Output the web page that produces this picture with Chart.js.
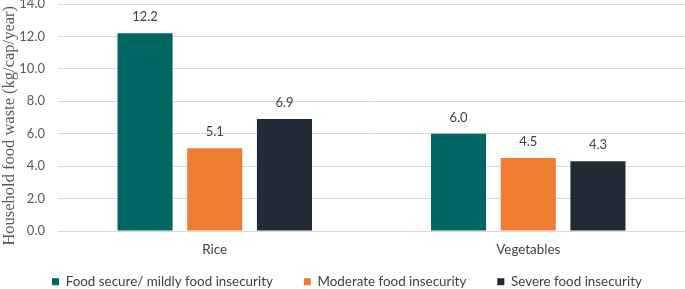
<!DOCTYPE html>
<html>
<head>
<meta charset="utf-8">
<script src="https://cdn.jsdelivr.net/npm/chart.js@4"></script>
<style>
  html, body { margin: 0; padding: 0; background: #fff; }
  #wrap { width: 685px; height: 289px; }
</style>
</head>
<body>
<div id="wrap"><canvas id="wasteChart"></canvas></div>
<script>
// Household food waste by food security status
const categories = ["Rice", "Vegetables"];
const seriesNames = [
  "Food secure/ mildly food insecurity",
  "Moderate food insecurity",
  "Severe food insecurity",
];
const foodSecure = [12.2, 6.0];
const moderate = [5.1, 4.5];
const severe = [6.9, 4.3];
const colors = ["#006661", "#ED7D31", "#222A35"];

const sansFont = "Lato, 'Liberation Sans', sans-serif";

// value labels above bars
const valueLabels = {
  id: "valueLabels",
  afterDatasetsDraw(chart) {
    const ctx = chart.ctx;
    ctx.save();
    ctx.font = "13px " + sansFont;
    ctx.fillStyle = "#404040";
    ctx.textAlign = "center";
    ctx.textBaseline = "middle";
    chart.data.datasets.forEach((ds, i) => {
      chart.getDatasetMeta(i).data.forEach((bar, j) => {
        ctx.fillText(ds.data[j].toFixed(1), bar.x, bar.y - 16);
      });
    });
    ctx.restore();
  },
};

// legend sits low and to the left in the original
const legendPlace = {
  id: "legendPlace",
  beforeLayout(chart) {
    const lg = chart.legend;
    if (lg && !lg._fitWrapped) {
      const fit = lg.fit;
      lg.fit = function () {
        fit.call(this);
        this.height = 31;
      };
      lg._fitWrapped = true;
    }
  },
  afterLayout(chart) {
    chart.legend.left = 21;
    chart.legend.top = 244;
  },
};

const data = {
  labels: categories,
  datasets: [
    { label: seriesNames[0], data: foodSecure, backgroundColor: colors[0] },
    { label: seriesNames[1], data: moderate, backgroundColor: colors[1] },
    { label: seriesNames[2], data: severe, backgroundColor: colors[2] },
  ],
};

new Chart(document.getElementById("wasteChart"), {
  type: "bar",
  data: data,
  options: {
    responsive: true,
    maintainAspectRatio: false,
    animation: false,
    datasets: {
      bar: { categoryPercentage: 0.667, barPercentage: 0.79 },
    },
    layout: { padding: { top: 4, right: 0, bottom: 0, left: 0 } },
    plugins: {
      legend: {
        position: "bottom",
        align: "start",
        labels: {
          boxWidth: 7,
          boxHeight: 7,
          padding: 31,
          color: "#404040",
          font: { family: sansFont, size: 13.4 },
        },
      },
      tooltip: { enabled: false },
    },
    scales: {
      x: {
        grid: { display: false },
        border: { color: "#D9D9D9" },
        ticks: {
          color: "#404040",
          font: { family: sansFont, size: 13.4 },
          padding: 3,
        },
        afterFit(scale) {
          scale.height = 27;
        },
      },
      y: {
        min: 0,
        max: 14,
        ticks: {
          stepSize: 2,
          color: "#595959",
          font: { family: sansFont, size: 13 },
          padding: 13,
          callback: (v) => v.toFixed(1),
        },
        grid: { color: "#D9D9D9", drawTicks: false },
        border: { display: false },
        title: {
          display: true,
          // trailing spaces nudge the rotated title down a little, as in the original
          text: "Household food waste (kg/cap/year)    ",
          color: "#595959",
          font: { family: "'Liberation Serif', serif", size: 16.5 },
          padding: { top: 0, bottom: 0 },
        },
        afterFit(scale) {
          scale.width = 58;
          scale.paddingTop = 0;
        },
      },
    },
  },
  plugins: [valueLabels, legendPlace],
});
</script>
</body>
</html>
